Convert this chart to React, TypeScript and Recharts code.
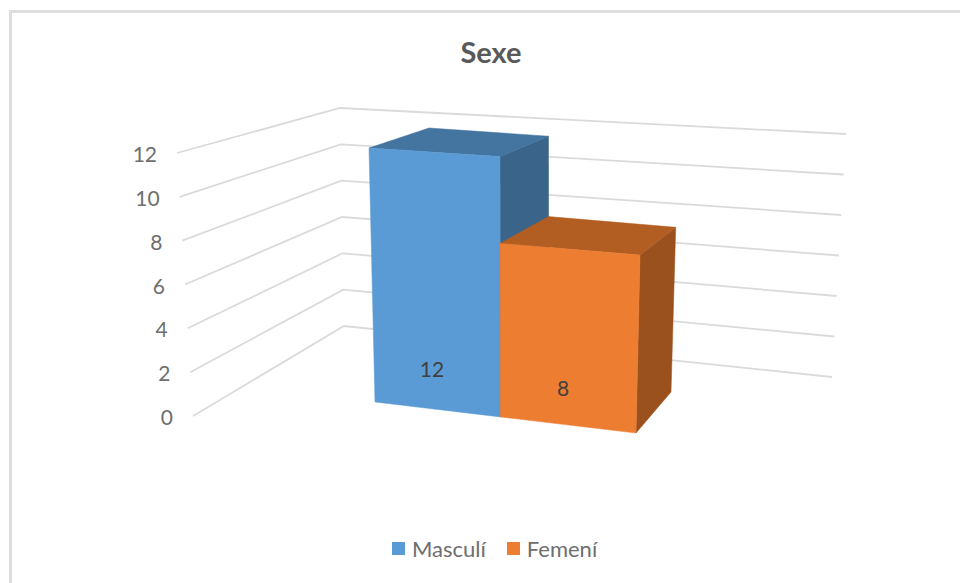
import { BarChart, Bar, XAxis, YAxis, CartesianGrid, LabelList } from 'recharts';

const categories = ['Masculí', 'Femení'];
const values = [12, 8];
const yTicks = [0, 2, 4, 6, 8, 10, 12];

const FRONT_COLORS = ['#5B9BD5', '#ED7D31'];
const TOP_COLORS = ['#4474A0', '#B25E22'];
const SIDE_COLORS = ['#3A6489', '#9A511D'];

const chartData = categories.map((name, i) => ({ name, value: values[i] }));

const WIDTH = 960;
const HEIGHT = 583;
const PLOT = { left: 200, top: 150, width: 600, height: 260 };
const AXIS_WIDTH = 1;

type Pt = [number, number];

const mix = (a: Pt, b: Pt, t: number): Pt => [a[0] + (b[0] - a[0]) * t, a[1] + (b[1] - a[1]) * t];

// corners of the 3D box the bars stand in (front/back, bottom/top, left/right)
const FRONT_BOTTOM_L: Pt = [375, 402];
const FRONT_BOTTOM_R: Pt = [636, 433];
const FRONT_TOP_L: Pt = [369, 148];
const FRONT_TOP_R: Pt = [642, 166];
const BACK_BOTTOM_L: Pt = [436, 364];
const BACK_BOTTOM_R: Pt = [671, 392];
const BACK_TOP_L: Pt = [429, 128];
const BACK_TOP_R: Pt = [678, 145];

// ends of the wall gridlines, bottom and top of the axis
const WALL_FRONT: [Pt, Pt] = [[193, 416], [177, 153]];
const WALL_CORNER: [Pt, Pt] = [[344, 326], [340, 108]];
const WALL_RIGHT: [Pt, Pt] = [[832, 377], [846, 134]];

const heightFraction = (py: number) => (PLOT.top + PLOT.height - py) / PLOT.height;

// plot coordinates -> picture, s across, t up, d into the page
const project = (px: number, py: number, d: number): Pt => {
  const raw = (px - PLOT.left) / PLOT.width;
  const s = (0.923 * raw) / (1 - 0.077 * raw); // near bar looks narrower
  const t = heightFraction(py);
  const front = mix(mix(FRONT_BOTTOM_L, FRONT_BOTTOM_R, s), mix(FRONT_TOP_L, FRONT_TOP_R, s), t);
  const back = mix(mix(BACK_BOTTOM_L, BACK_BOTTOM_R, s), mix(BACK_TOP_L, BACK_TOP_R, s), t);
  return mix(front, back, d);
};

const toPoints = (pts: Pt[]) => pts.map((p) => `${p[0].toFixed(1)},${p[1].toFixed(1)}`).join(' ');

const Face = ({ pts, color }: { pts: Pt[]; color: string }) => (
  <polygon points={toPoints(pts)} fill={color} stroke={color} strokeWidth={0.5} />
);

const Bar3D = (props: any) => {
  const { x, y, width, height, index } = props;
  const base = y + height;
  const right = x + width;
  return (
    <g>
      <Face
        color={SIDE_COLORS[index]}
        pts={[project(right, y, 0), project(right, y, 1), project(right, base, 1), project(right, base, 0)]}
      />
      <Face
        color={TOP_COLORS[index]}
        pts={[project(x, y, 0), project(x, y, 1), project(right, y, 1), project(right, y, 0)]}
      />
      <Face
        color={FRONT_COLORS[index]}
        pts={[project(x, y, 0), project(right, y, 0), project(right, base, 0), project(x, base, 0)]}
      />
    </g>
  );
};

// Excel keeps the label low on the bar, it only creeps up a little with bar height
const BarLabel = (props: any) => {
  const { x, y, width, height, value } = props;
  const p = project(x + width / 2, y + height - (25 + 0.0575 * height), 0);
  return (
    <text x={p[0] - 4} y={p[1] + 7} textAnchor="middle" fontSize={21} fill="#404040">
      {value}
    </text>
  );
};

// gridline running along both walls, sits under the bars
const WallLine = (props: any) => {
  const t = heightFraction(props.y1);
  const a = mix(WALL_FRONT[0], WALL_FRONT[1], t);
  const b = mix(WALL_CORNER[0], WALL_CORNER[1], t);
  const c = mix(WALL_RIGHT[0], WALL_RIGHT[1], t);
  return <polyline points={toPoints([a, b, c])} fill="none" stroke="#DADADA" strokeWidth={1.8} />;
};

const WallTick = (props: any) => {
  const { y, payload } = props;
  const a = mix(WALL_FRONT[0], WALL_FRONT[1], heightFraction(y));
  return (
    <text x={a[0] - 20} y={a[1] + 9} textAnchor="end" fontSize={21} fill="#6E6E6E">
      {payload.value}
    </text>
  );
};

export default function App() {
  return (
    <div style={{ position: 'absolute', left: 0, top: 0, width: WIDTH, height: HEIGHT, overflow: 'hidden', fontFamily: 'Lato, sans-serif' }}>
      <div
        style={{
          position: 'absolute',
          left: 9,
          top: 10,
          width: WIDTH,
          height: HEIGHT,
          border: '3px solid #DEDEDE',
        }}
      />
      <div
        style={{
          position: 'absolute',
          left: 0,
          top: 34,
          width: 982,
          textAlign: 'center',
          fontSize: 29,
          fontWeight: 700,
          color: '#595959',
        }}
      >
        Sexe
      </div>
      <BarChart
        width={WIDTH}
        height={HEIGHT}
        data={chartData}
        barCategoryGap={0}
        style={{ position: 'absolute', left: 0, top: 0 }}
        margin={{
          left: PLOT.left - AXIS_WIDTH,
          top: PLOT.top,
          right: WIDTH - PLOT.left - PLOT.width,
          bottom: HEIGHT - PLOT.top - PLOT.height,
        }}
      >
        <CartesianGrid vertical={false} horizontal={WallLine} syncWithTicks />
        <XAxis dataKey="name" hide />
        <YAxis
          width={AXIS_WIDTH}
          domain={[0, 12]}
          ticks={yTicks}
          interval={0}
          axisLine={false}
          tickLine={false}
          tick={WallTick}
        />
        <Bar dataKey="value" shape={<Bar3D />} isAnimationActive={false}>
          <LabelList dataKey="value" content={<BarLabel />} />
        </Bar>
      </BarChart>
      <div
        style={{
          position: 'absolute',
          left: 392,
          top: 535,
          display: 'flex',
          alignItems: 'center',
          fontSize: 22,
          color: '#6E6E6E',
        }}
      >
        {categories.map((name, i) => (
          <span key={name} style={{ display: 'flex', alignItems: 'center', marginRight: i === 0 ? 21 : 0 }}>
            <span style={{ width: 13, height: 13, background: FRONT_COLORS[i], marginRight: 7 }} />
            {name}
          </span>
        ))}
      </div>
    </div>
  );
}
